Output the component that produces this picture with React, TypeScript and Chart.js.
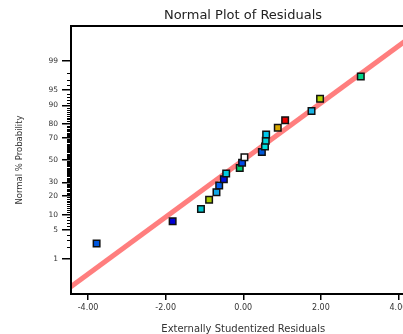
import React, { useEffect, useRef } from "react";
import { Chart, registerables } from "chart.js";

Chart.register(...registerables);

// Externally studentized residuals (x) and normal % probability (y)
const residuals = [-3.78, -1.82, -1.09, -0.88, -0.69, -0.62, -0.5, -0.44, -0.09, -0.03, 0.03, 0.48, 0.56, 0.58, 0.59, 0.89, 1.08, 1.76, 1.98, 3.03];
const probabilities = [2.5, 7.5, 12.5, 17.5, 22.5, 27.5, 32.5, 37.5, 42.5, 47.5, 52.5, 57.5, 62.5, 67.5, 72.5, 77.5, 82.5, 87.5, 92.5, 97.5];
const pointColors = [
  "#0058e0", "#0000d8", "#00c4cc", "#a8c800", "#10a8e8", "#0060f0", "#0010e0", "#00cce0", "#00d070", "#0048e8",
  "#ffffff", "#0058d8", "#00dcdc", "#00d4d8", "#00c8ec", "#d8a800", "#e80000", "#18b4e4", "#b4d400", "#00d488",
];

// Reference line (residual, z-score)
const fitLineX = [-4.6, 4.6];
const fitLineZ = [-3.08, 3.08];

const xTickValues = [-4, -2, 0, 2, 4];
const yTickPercents = [1, 5, 10, 20, 30, 50, 70, 80, 90, 95, 99];

const X_MIN = -4.44;
const X_MAX = 4.44;
const Z_LIM = 3.148;

// inverse normal CDF (Acklam)
function probit(p: number): number {
  const a = [-39.69683028665376, 220.9460984245205, -275.9285104469687, 138.357751867269, -30.66479806614716, 2.506628277459239];
  const b = [-54.47609879822406, 161.5858368580409, -155.6989798598866, 66.80131188771972, -13.28068155288572];
  const c = [-0.007784894002430293, -0.3223964580411365, -2.400758277161838, -2.549732539343734, 4.374664141464968, 2.938163982698783];
  const d = [0.007784695709041462, 0.3224671290700398, 2.445134137142996, 3.754408661907416];
  const pl = 0.02425;
  let q: number, r: number;
  if (p < pl) {
    q = Math.sqrt(-2 * Math.log(p));
    return (((((c[0] * q + c[1]) * q + c[2]) * q + c[3]) * q + c[4]) * q + c[5]) / ((((d[0] * q + d[1]) * q + d[2]) * q + d[3]) * q + 1);
  }
  if (p <= 1 - pl) {
    q = p - 0.5;
    r = q * q;
    return ((((((a[0] * r + a[1]) * r + a[2]) * r + a[3]) * r + a[4]) * r + a[5]) * q) / (((((b[0] * r + b[1]) * r + b[2]) * r + b[3]) * r + b[4]) * r + 1);
  }
  q = Math.sqrt(-2 * Math.log(1 - p));
  return -(((((c[0] * q + c[1]) * q + c[2]) * q + c[3]) * q + c[4]) * q + c[5]) / ((((d[0] * q + d[1]) * q + d[2]) * q + d[3]) * q + 1);
}

const FONT = "'DejaVu Sans', sans-serif";

const framePlugin = {
  id: "frameAndMinor",
  afterDraw(chart: any) {
    const { ctx, chartArea } = chart;
    const ys = chart.scales.y;
    ctx.save();
    ctx.strokeStyle = "#000";
    ctx.lineWidth = 1;
    for (let p = 1; p <= 99; p++) {
      if (yTickPercents.includes(p)) continue;
      const y = Math.round(ys.getPixelForValue(probit(p / 100))) + 0.5;
      ctx.beginPath();
      ctx.moveTo(chartArea.left - 4, y);
      ctx.lineTo(chartArea.left, y);
      ctx.stroke();
    }
    ctx.lineWidth = 2;
    ctx.strokeRect(chartArea.left, chartArea.top, chartArea.right - chartArea.left, chartArea.bottom - chartArea.top);
    ctx.restore();
  },
};

export default function App() {
  const ref = useRef<HTMLCanvasElement>(null);
  useEffect(() => {
    if (!ref.current) return;
    const chart = new Chart(ref.current, {
      type: "scatter",
      data: {
        datasets: [
          {
            type: "scatter",
            data: residuals.map((x, i) => ({ x, y: probit(probabilities[i] / 100) })),
            pointStyle: "rect",
            pointRadius: 4.6,
            pointHoverRadius: 4.6,
            backgroundColor: pointColors,
            borderColor: "#111",
            borderWidth: 1.5,
          },
          {
            type: "line",
            data: fitLineX.map((x, i) => ({ x, y: fitLineZ[i] })),
            borderColor: "#ff7e7e",
            borderWidth: 5,
            pointRadius: 0,
            fill: false,
          } as any,
        ],
      },
      options: {
        animation: false,
        responsive: false,
        events: [],
        layout: { padding: 0 },
        plugins: {
          legend: { display: false },
          tooltip: { enabled: false },
          title: {
            display: true,
            text: "Normal Plot of Residuals",
            color: "#222",
            font: { family: FONT, size: 13, weight: "normal", lineHeight: 1.2 },
            padding: { top: 8, bottom: 2.4 },
          },
        },
        scales: {
          x: {
            type: "linear",
            min: X_MIN,
            max: X_MAX,
            afterBuildTicks: (s: any) => {
              s.ticks = xTickValues.map((v) => ({ value: v }));
            },
            afterFit: (s: any) => {
              s.height = 40;
            },
            ticks: {
              autoSkip: false,
              color: "#333",
              font: { family: FONT, size: 8 },
              padding: 3,
              maxRotation: 0,
              callback: (v: any) => Number(v).toFixed(2),
            },
            grid: { drawOnChartArea: false, drawTicks: true, tickLength: 6, color: "#000", lineWidth: 1.5 },
            border: { display: false },
            title: {
              display: true,
              text: "Externally Studentized Residuals",
              color: "#333",
              font: { family: FONT, size: 10, lineHeight: 1 },
              padding: 0,
            },
          },
          y: {
            type: "linear",
            min: -Z_LIM,
            max: Z_LIM,
            afterBuildTicks: (s: any) => {
              s.ticks = yTickPercents.map((p) => ({ value: probit(p / 100) }));
            },
            afterFit: (s: any) => {
              s.width = 71;
            },
            ticks: {
              autoSkip: false,
              color: "#333",
              font: { family: FONT, size: 7.5 },
              padding: 4,
              callback: (_v: any, i: number) => String(yTickPercents[i]),
            },
            grid: { drawOnChartArea: false, drawTicks: true, tickLength: 9, color: "#000", lineWidth: 1.5 },
            border: { display: false },
            title: {
              display: true,
              text: "Normal % Probability",
              color: "#333",
              font: { family: FONT, size: 8.5, lineHeight: 1.2 },
              padding: { top: 15, bottom: 0 },
            },
          },
          yRight: {
            type: "linear",
            position: "right",
            min: 0,
            max: 1,
            afterFit: (s: any) => {
              s.width = 70.5;
            },
            ticks: { display: false },
            grid: { display: false },
            border: { display: false },
          },
        },
      },
      plugins: [framePlugin],
    });
    return () => chart.destroy();
  }, []);
  return (
    <div style={{ position: "fixed", left: 0, top: 0, width: 403, height: 334, overflow: "hidden", background: "#fff" }}>
      <canvas ref={ref} width={486} height={334} style={{ display: "block", width: 486, height: 334 }} />
    </div>
  );
}
